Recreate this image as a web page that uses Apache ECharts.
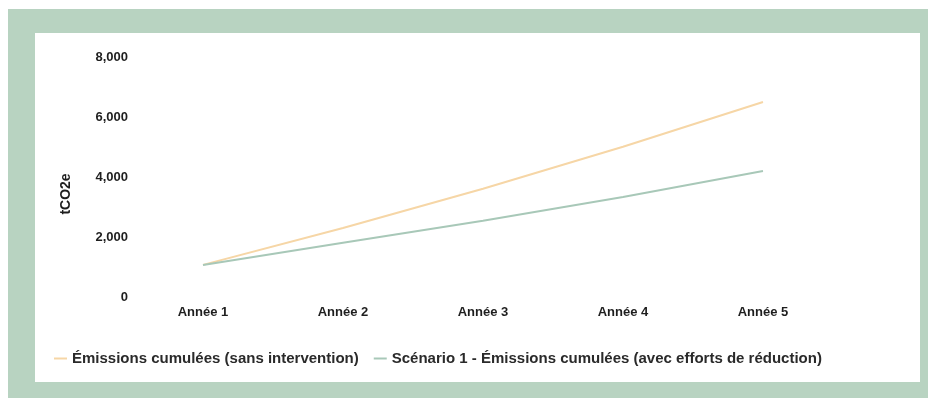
<!DOCTYPE html>
<html>
<head>
<meta charset="utf-8">
<script src="https://cdn.jsdelivr.net/npm/echarts@6/dist/echarts.min.js"></script>
<style>
html,body{margin:0;padding:0;background:#fff;}
#frame{position:absolute;left:8px;top:9px;width:920px;height:389px;background:#b8d3c1;}
#panel{position:absolute;left:35px;top:33px;width:885px;height:349px;background:#fff;}
#chart{position:absolute;left:0;top:0;width:928px;height:398px;}
</style>
</head>
<body>
<div id="frame"></div>
<div id="panel"></div>
<div id="chart"></div>
<script>
const categories = ['Année 1', 'Année 2', 'Année 3', 'Année 4', 'Année 5'];
const seriesNames = ['Émissions cumulées (sans intervention)', 'Scénario 1 - Émissions cumulées (avec efforts de réduction)'];
const sansIntervention = [1070, 2300, 3610, 5010, 6500];
const avecEfforts = [1070, 1810, 2540, 3330, 4200];
const yTicks = [0, 2000, 4000, 6000, 8000];

const chart = echarts.init(document.getElementById('chart'), null, {renderer: 'canvas'});
const font = 'Liberation Sans, Arial, sans-serif';
chart.setOption({
  backgroundColor: 'transparent',
  animation: false,
  grid: {left: 133, right: 95, top: 57, bottom: 101},
  legend: {
    left: 49, top: 346,
    icon: 'rect', itemWidth: 13, itemHeight: 2, itemGap: 15,
    textStyle: {fontFamily: font, fontSize: 15, fontWeight: 'bold', color: '#2a2a2a'},
    data: seriesNames
  },
  xAxis: {
    type: 'category', data: categories, boundaryGap: true,
    axisLine: {show: false}, axisTick: {show: false},
    axisLabel: {fontFamily: font, fontSize: 13, fontWeight: 'bold', color: '#1e1e1e', margin: 9}
  },
  yAxis: {
    type: 'value', min: yTicks[0], max: yTicks[yTicks.length - 1], interval: 2000,
    name: 'tCO2e', nameLocation: 'middle', nameGap: 60, nameRotate: 90,
    nameTextStyle: {fontFamily: font, fontSize: 14, fontWeight: 'bold', color: '#1e1e1e', padding: [0, 34, 0, 0]},
    axisLine: {show: false}, axisTick: {show: false}, splitLine: {show: false},
    axisLabel: {fontFamily: font, fontSize: 13, fontWeight: 'bold', color: '#1e1e1e', margin: 5,
      formatter: v => v.toLocaleString('en-US')}
  },
  series: [
    {name: seriesNames[0], type: 'line', data: sansIntervention, symbol: 'none',
      lineStyle: {width: 2, color: '#f6d6a6'}, itemStyle: {color: '#f6d6a6'}},
    {name: seriesNames[1], type: 'line', data: avecEfforts, symbol: 'none',
      lineStyle: {width: 2, color: '#a8c8b8'}, itemStyle: {color: '#a8c8b8'}}
  ]
});
</script>
</body>
</html>
